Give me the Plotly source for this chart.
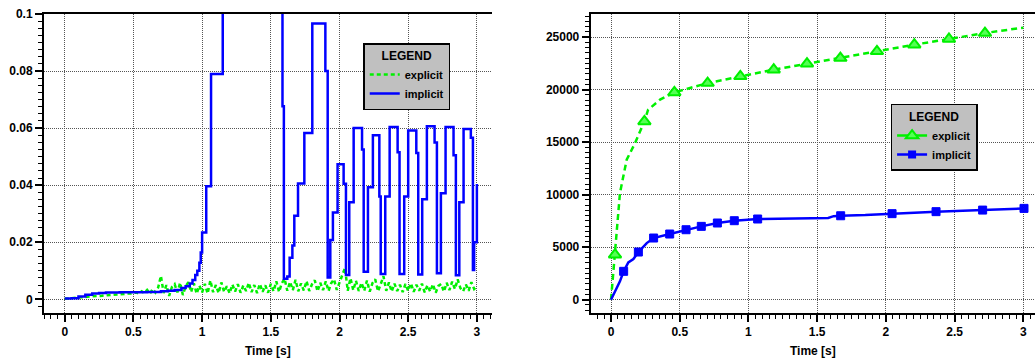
import plotly.graph_objects as go
from plotly.subplots import make_subplots

# ---------------- left panel: step size history ----------------
# implicit solver (step-held values)
impl_t = [0, 0.05, 0.1, 0.15, 0.2, 0.25, 0.3, 0.4, 0.5, 0.6, 0.7, 0.75, 0.8, 0.85,
          0.88, 0.91, 0.93, 0.95, 0.965, 0.98, 0.99, 1.0, 1.03, 1.065, 1.15, 1.585,
          1.595, 1.62, 1.637, 1.657, 1.671, 1.698, 1.744, 1.802, 1.897, 1.914, 1.933,
          1.952, 1.986, 2.03, 2.047, 2.071, 2.103, 2.164, 2.176, 2.207, 2.243, 2.29,
          2.30, 2.333, 2.365, 2.423, 2.437, 2.471, 2.50, 2.559, 2.573, 2.602, 2.636,
          2.692, 2.709, 2.738, 2.772, 2.830, 2.847, 2.872, 2.903, 2.956, 2.971, 2.98,
          3.0]
impl_dt = [0.0003, 0.0004, 0.0010, 0.0016, 0.0020, 0.0022, 0.0024, 0.0025, 0.0025,
           0.0026, 0.0028, 0.0030, 0.0033, 0.0040, 0.0046, 0.0055, 0.0068, 0.0085,
           0.0100, 0.0128, 0.0164, 0.0234, 0.0396, 0.0790, 0.1300, 0.0677, 0.0072,
           0.0080, 0.0146, 0.0189, 0.0293, 0.0406, 0.0583, 0.0967, 0.0800, 0.0076,
           0.0208, 0.0304, 0.0473, 0.0405, 0.0085, 0.0340, 0.0600, 0.0525, 0.0097,
           0.0393, 0.0575, 0.0360, 0.0089, 0.0360, 0.0604, 0.0515, 0.0089, 0.0360,
           0.0592, 0.0513, 0.0087, 0.0351, 0.0607, 0.0550, 0.0091, 0.0372, 0.0604,
           0.0505, 0.0084, 0.0340, 0.0597, 0.0566, 0.0103, 0.0200, 0.0404]

# explicit solver, sampled every 0.02 s (values in 1e-3)
expl_t = [round(i * 0.02, 2) for i in range(151)]
expl_dt_milli = [
    0.2, 0.3, 0.4, 0.5, 0.6, 0.7, 0.8, 0.8, 0.9, 1.0, 1.0, 1.1, 1.2, 1.2, 1.3,
    1.4, 1.5, 1.5, 1.6, 1.7, 1.8, 1.8, 1.9, 2.0, 2.0,
    2.1, 2.4, 1.9, 2.8, 2.2, 3.3, 2.0, 3.6, 2.4, 4.1, 8.2, 2.2, 5.0, 1.2, 4.3,
    5.3, 2.4, 5.8, 1.5, 4.5, 6.0, 2.6, 5.6, 2.0, 4.8,
    2.4, 5.4, 2.0, 6.6, 2.5, 5.0, 2.2, 5.9, 2.6, 4.6, 2.1, 5.2, 2.7, 5.3, 2.3,
    4.9, 2.9, 5.8, 2.5, 5.0, 2.2, 5.4, 2.6, 4.9, 2.3,
    5.4, 2.8, 6.3, 2.6, 5.6, 7.2, 3.0, 6.1, 3.2, 6.8, 2.8, 5.6, 3.1, 6.4, 2.9,
    5.3, 6.7, 2.8, 5.8, 3.2, 6.3, 2.9, 5.7, 7.0, 3.3,
    6.0, 8.4, 11.0, 3.0, 7.4, 3.2, 6.5, 2.9, 5.8, 3.0, 6.6, 2.7, 5.7, 7.0, 2.8,
    5.3, 8.1, 3.0, 5.9, 2.7, 5.5, 2.9, 5.1, 2.5, 5.4,
    2.9, 5.6, 2.6, 5.1, 3.0, 5.5, 2.4, 4.9, 2.7, 5.3, 2.3, 4.7, 5.4, 2.7, 5.8,
    3.2, 6.2, 3.6, 7.0, 3.9, 2.8, 5.2, 3.0, 6.0, 3.6,
    4.6,
]
expl_dt = [v / 1000.0 for v in expl_dt_milli]

# ---------------- right panel: cumulative step count ----------------
expl_n_t = [0, 0.029, 0.065, 0.114, 0.175, 0.243, 0.27, 0.357, 0.461, 0.703, 0.941,
            1.184, 1.426, 1.669, 1.935, 2.207, 2.459, 2.721, 3.0]
expl_n = [0, 4283, 10150, 13320, 14910, 16970, 18080, 19040, 19730, 20620, 21260,
          21890, 22460, 23000, 23640, 24270, 24810, 25380, 25890]
expl_marked = [1, 5, 8, 9, 10, 11, 12, 13, 14, 15, 16, 17]

impl_n_t = [0, 0.035, 0.065, 0.092, 0.126, 0.163, 0.199, 0.26, 0.31, 0.427, 0.546,
            0.657, 0.774, 0.897, 1.067, 1.3, 1.58, 1.62, 1.671, 1.85, 2.045, 2.365,
            2.704, 3.005]
impl_n = [0, 900, 1745, 2700, 3550, 3870, 4537, 5390, 5870, 6250, 6660, 6980, 7300,
          7520, 7680, 7730, 7780, 7950, 7990, 8050, 8190, 8380, 8530, 8690]
impl_marked = [3, 6, 8, 9, 10, 11, 12, 13, 14, 18, 20, 21, 22, 23]

GREEN = "#00f000"
BLUE = "#0000ff"
FONT = "Liberation Sans, Arial, sans-serif"

fig = make_subplots(rows=1, cols=2)

# left panel traces
fig.add_trace(go.Scatter(
    x=expl_t, y=expl_dt, mode="lines", name="explicit",
    line=dict(color=GREEN, width=2.5, dash="4px,3px"), legend="legend"),
    row=1, col=1)
fig.add_trace(go.Scatter(
    x=impl_t, y=impl_dt, mode="lines", name="implicit",
    line=dict(color=BLUE, width=2.5, shape="hv"), legend="legend"),
    row=1, col=1)

# right panel traces: curves, marker subsets, and legend entries
fig.add_trace(go.Scatter(
    x=expl_n_t, y=expl_n, mode="lines", showlegend=False,
    line=dict(color=GREEN, width=2.5, dash="6px,4px")), row=1, col=2)
fig.add_trace(go.Scatter(
    x=[expl_n_t[i] for i in expl_marked], y=[expl_n[i] for i in expl_marked],
    mode="markers", showlegend=False,
    marker=dict(symbol="triangle-up", size=11, color="#55ff55",
                line=dict(color=GREEN, width=2))), row=1, col=2)
fig.add_trace(go.Scatter(
    x=impl_n_t, y=impl_n, mode="lines", showlegend=False,
    line=dict(color=BLUE, width=2.5)), row=1, col=2)
fig.add_trace(go.Scatter(
    x=[impl_n_t[i] for i in impl_marked], y=[impl_n[i] for i in impl_marked],
    mode="markers", showlegend=False,
    marker=dict(symbol="square", size=8, color=BLUE,
                line=dict(color=BLUE, width=1))), row=1, col=2)
fig.add_trace(go.Scatter(
    x=[None], y=[None], mode="lines+markers", name="explicit", legend="legend2",
    line=dict(color=GREEN, width=2.5),
    marker=dict(symbol="triangle-up", size=11, color="#55ff55",
                line=dict(color=GREEN, width=2))), row=1, col=2)
fig.add_trace(go.Scatter(
    x=[None], y=[None], mode="lines+markers", name="implicit", legend="legend2",
    line=dict(color=BLUE, width=2.5),
    marker=dict(symbol="square", size=8, color=BLUE)), row=1, col=2)

axis_common = dict(
    showline=True, linecolor="black", linewidth=2,
    ticks="outside", ticklen=7, tickwidth=1.5, tickcolor="black",
    showgrid=True, gridcolor="#555555", griddash="1px,1px", gridwidth=1,
    zeroline=False,
    tickfont=dict(family=FONT, size=12, color="black", weight="bold"),
)
xaxis_common = dict(
    axis_common, mirror=True, dtick=0.5, tick0=0,
    minor=dict(dtick=0.05, ticks="outside", ticklen=4, tickwidth=1,
               tickcolor="black", showgrid=False),
    title=dict(text="Time [s]", standoff=8,
               font=dict(family=FONT, size=12, color="black", weight="bold")),
)

legend_common = dict(
    bgcolor="#c0c0c0", bordercolor="black", borderwidth=1.5,
    font=dict(family=FONT, size=11, color="black", weight="bold"),
    title=dict(text="LEGEND", side="top center",
               font=dict(family=FONT, size=12, color="black", weight="bold")),
    xanchor="center", yanchor="top", tracegroupgap=0,
)

fig.update_layout(
    width=1035, height=361,
    margin=dict(l=0, r=0, t=14, b=48),
    paper_bgcolor="white", plot_bgcolor="white",
    xaxis=dict(xaxis_common, domain=[0.0425, 0.4751], range=[-0.151, 3.108]),
    yaxis=dict(axis_common, range=[-0.0048, 0.1], dtick=0.02, tick0=0,
               minor=dict(dtick=0.0025, ticks="outside", ticklen=4, tickwidth=1,
                          tickcolor="black", showgrid=False)),
    xaxis2=dict(xaxis_common, domain=[0.5707, 1.0], range=[-0.148, 3.085]),
    yaxis2=dict(axis_common, range=[-1265, 27190], dtick=5000, tick0=0,
                tickformat="d",
                minor=dict(dtick=500, ticks="outside", ticklen=4, tickwidth=1,
                           tickcolor="black", showgrid=False)),
    legend=dict(legend_common, x=0.393, y=0.903),
    legend2=dict(legend_common, x=0.9025, y=0.699),
)

fig.write_html("out.html")
